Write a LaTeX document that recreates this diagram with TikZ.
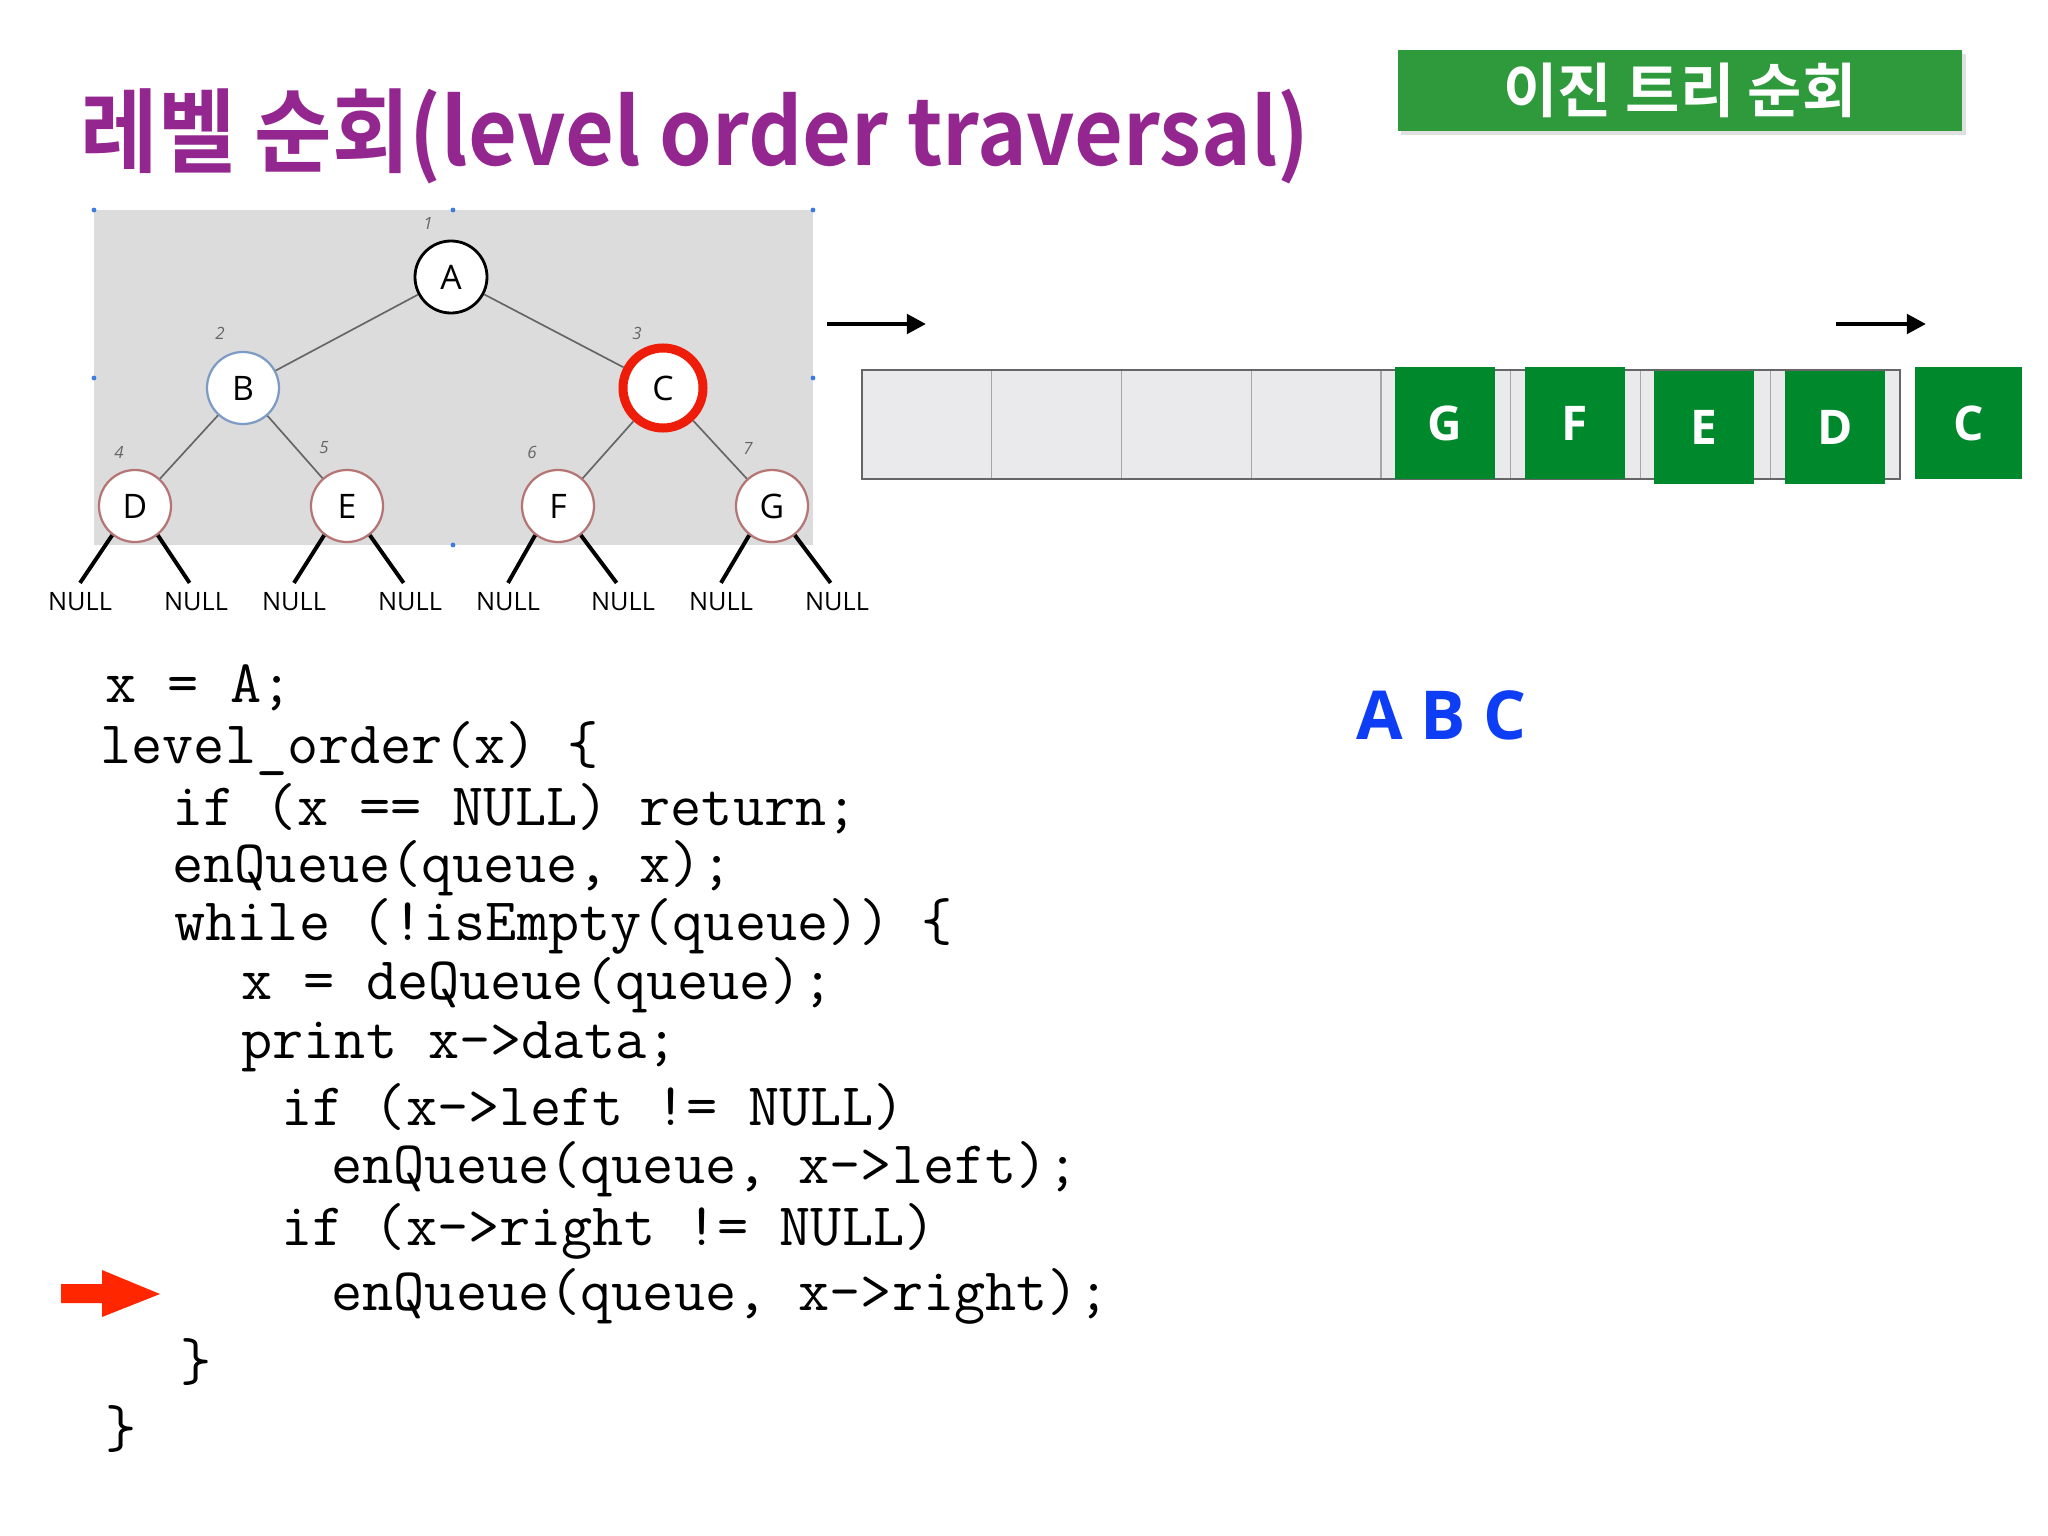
\documentclass[tikz,border=0pt]{standalone}
\usepackage{fontspec}
\usepackage{graphicx}
\usetikzlibrary{arrows.meta,positioning}
\setsansfont{Open Sans}
\newfontfamily\korfont{Noto Sans CJK KR}[BoldFont={Noto Sans CJK KR Bold}]
\definecolor{TravPurple}{HTML}{93278F}
\definecolor{TravBanner}{HTML}{2F9A3C}
\definecolor{TravQueue}{HTML}{00882C}
\definecolor{TravPanel}{HTML}{DCDCDC}
\definecolor{TravCell}{HTML}{EAE9EC}
\definecolor{TravBlue}{HTML}{0D3DF5}
\definecolor{TravRed}{HTML}{FF2600}
\definecolor{TravRing}{HTML}{EE1D0A}
\definecolor{TravLeaf}{HTML}{B57575}
\definecolor{TravBNode}{HTML}{7C9CC6}
\definecolor{TravHandle}{HTML}{3C7BE0}
\tikzset{
  treenode/.style={circle,fill=white,draw,line width=0.8pt,minimum size=0.9cm,
    inner sep=0pt,font=\sffamily\fontsize{12}{12}\selectfont},
  leafnode/.style={treenode,draw=TravLeaf},
  treeedge/.style={draw=black!60,line width=0.6pt},
  numlabel/.style={text=black!60,inner sep=0pt,font=\sffamily\itshape\fontsize{6}{6}\selectfont},
  nulllabel/.style={font=\sffamily\fontsize{9}{9}\selectfont},
  nullline/.style={line width=1.4pt},
  qbox/.style={fill=TravQueue,text=white,minimum width=1.25cm,minimum height=1.4cm,
    inner sep=0pt,font=\sffamily\bfseries\fontsize{17}{17}\selectfont},
  qarrow/.style={line width=1.6pt,-{Triangle[length=0.24cm,width=0.24cm]}},
  codeline/.style={anchor=base west,inner sep=0pt,font=\ttfamily\fontsize{21.5}{24}\selectfont}
}
\begin{document}
\begin{tikzpicture}[x=0.0125cm,y=-0.0125cm]
        \fill[white] (0,0) rectangle (2048,1536);
        \useasboundingbox (0,0) rectangle (2048,1536);

        \node[anchor=base west,inner sep=0pt,text=TravPurple] (title) at (80,165)
          {\resizebox{15.36cm}{0.96cm}{\korfont\bfseries 레벨 순회(level order traversal)}};

        \fill[black!12] (1401,54) rectangle (1966,135);
        \node[fill=TravBanner,minimum width=7.05cm,minimum height=1.0125cm,inner sep=0pt,
          text=white,font=\korfont\bfseries\fontsize{21}{21}\selectfont] (banner)
          at (1680,90.5) {이진 트리 순회};

        \fill[TravPanel] (94,210) rectangle (813,545);
        \foreach \hx/\hy in {94/210,453/210,813/210,94/378,813/378,453/545}{
          \fill[TravHandle] (\hx,\hy) circle[radius=0.03cm];
        }

        \node[treenode,draw=black,line width=1pt] (nA) at (451,277) {A};
        \node[treenode,draw=TravBNode] (nB) at (243,388) {B};
        \node[treenode,draw=TravRing,line width=3.2pt,minimum size=1.0cm] (nC) at (663,388) {C};
        \node[leafnode] (nD) at (135,506) {D};
        \node[leafnode] (nE) at (347,506) {E};
        \node[leafnode] (nF) at (558,506) {F};
        \node[leafnode] (nG) at (772,506) {G};

        \draw[treeedge] (nA) -- (nB);
        \draw[treeedge] (nA) -- (nC);
        \draw[treeedge] (nB) -- (nD);
        \draw[treeedge] (nB) -- (nE);
        \draw[treeedge] (nC) -- (nF);
        \draw[treeedge] (nC) -- (nG);

        \node[numlabel] (num1) at (428,223) {1};
        \node[numlabel] (num2) at (220,333) {2};
        \node[numlabel] (num3) at (637,333) {3};
        \node[numlabel] (num4) at (119,452) {4};
        \node[numlabel] (num5) at (324,448) {5};
        \node[numlabel] (num6) at (532,452) {6};
        \node[numlabel] (num7) at (748,448) {7};

        \foreach \leaf/\lx/\rx in {D/80/196,E/294/410,F/508/623,G/721/837}{
          \node[nulllabel] (null\leaf l) at (\lx,602) {NULL};
          \node[nulllabel] (null\leaf r) at (\rx,602) {NULL};
          \draw[nullline] (n\leaf.-128) -- (null\leaf l.north);
          \draw[nullline] (n\leaf.-52) -- ([xshift=-0.08cm]null\leaf r.north);
        }

        \coordinate (rearS) at (827,324);
        \coordinate (rearE) at (926,324);
        \coordinate (frontS) at (1836,324);
        \coordinate (frontE) at (1926,324);
        \draw[qarrow] (rearS) -- (rearE);
        \draw[qarrow] (frontS) -- (frontE);

        \foreach \i in {0,...,7}{
          \draw[black!35,line width=0.4pt,fill=TravCell]
            ({862+129.75*\i},370) rectangle ({862+129.75*(\i+1)},479);
        }
        \draw[black!60,line width=0.8pt] (862,370) rectangle (1900,479);

        \node[qbox] (qG) at (1445,423) {G};
        \node[qbox] (qF) at (1575,423) {F};
        \node[qbox] (qE) at (1703.5,427.5) {E};
        \node[qbox] (qD) at (1835,427.5) {D};
        \node[qbox,minimum width=1.34cm] (qC) at (1968.5,423) {C};

        \node[anchor=base west,inner sep=0pt,text=TravBlue,
          font=\sffamily\bfseries\fontsize{24}{24}\selectfont] (visited) at (1356,739) {A B C};

        \foreach \cx/\cy/\ctext in {105/702/{x = A;},100/763/{level\_order(x) \{},
          172/825/{if (x == NULL) return;},172/882/{enQueue(queue, x);},
          174/940/{while (!isEmpty(queue)) \{},241/999/{x = deQueue(queue);},
          241/1058/{print x->data;},281/1125/{if (x->left != NULL)},
          331/1183/{enQueue(queue, x->left);},281/1245/{if (x->right != NULL)},
          331/1310/{enQueue(queue, x->right);},180/1380/{\}},105/1447/{\}}}{
          \node[codeline] at (\cx,\cy) {\ctext};
        }

        \fill[TravRed] (61,1284) -- (102,1284) -- (102,1270) -- (160,1294)
          -- (102,1317) -- (102,1303) -- (61,1303) -- cycle;
      \end{tikzpicture}
\end{document}
